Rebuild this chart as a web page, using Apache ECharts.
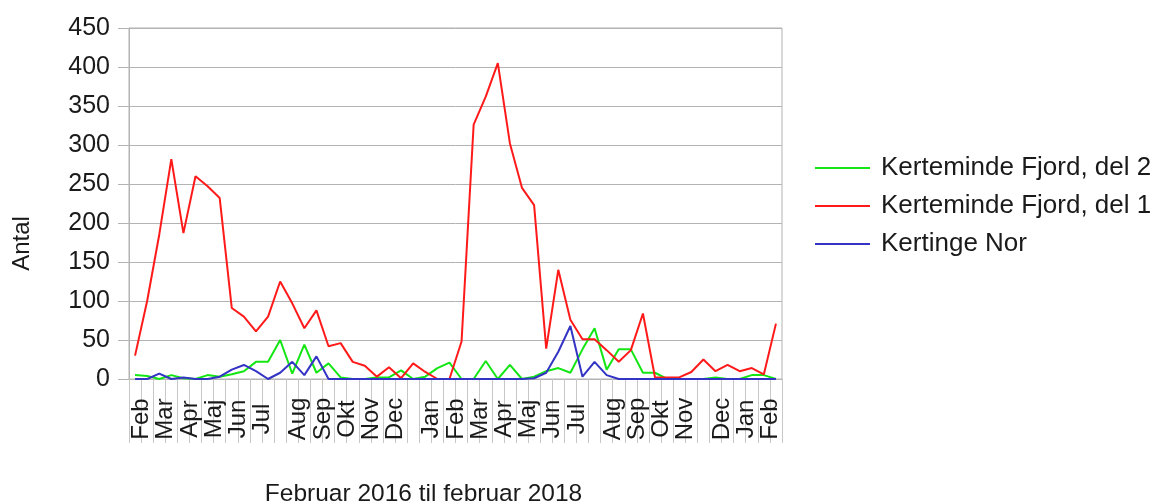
<!DOCTYPE html>
<html>
<head>
<meta charset="utf-8">
<script src="https://cdn.jsdelivr.net/npm/echarts@6/dist/echarts.min.js"></script>
<style>
html, body { margin: 0; padding: 0; background: #fff; }
#chart { width: 1156px; height: 504px; }
</style>
</head>
<body>
<div id="chart"></div>
<script>
// samples, roughly every second week, Feb 2016 - Feb 2018
var fjordDel2 = [5,4,0,5,1,0,5,3,6,10, 22,22,50,7,44,8,20,2,0,0, 2,2,11,0,3,14,21,0,0,23,
                 0,18,0,3,10,14,8,38,65,12, 38,38,8,8,0,0,0,0,2,0, 0,5,5,0];
var fjordDel1 = [30,100,185,282,187,260,247,232,91,80, 61,80,125,97,65,88,42,46,22,17,
                 3,15,1,20,9,0,0,48,326,362, 405,302,245,223,39,140,76,51,51,37,
                 22,37,84,2,2,2,9,25,10,18, 10,14,6,71];
var kertingeNor = [0,0,7,0,2,0,0,3,12,18, 10,0,8,22,5,29,0,0,0,0, 0,0,0,0,0,0,0,0,0,0,
                   0,0,0,1,8,35,68,3,22,5, 0,0,0,0,0,0,0,0,0,0, 0,0,0,0];

// month name shown at the first sample of each month
var monthNames = ['Feb','Mar','Apr','Maj','Jun','Jul','Aug','Sep','Okt','Nov','Dec','Jan',
                  'Feb','Mar','Apr','Maj','Jun','Jul','Aug','Sep','Okt','Nov','Dec','Jan','Feb'];
var monthStart = [0,2,4,6,8,10,13,15,17,19,21,24,26,28,30,32,34,36,39,41,43,45,48,50,52];

var labels = [];
var categories = [];
for (var i = 0; i < fjordDel1.length; i++) {
    labels.push('');
    categories.push(String(i));
}
monthStart.forEach(function (p, k) { labels[p] = monthNames[k]; });

var font = 'Liberation Sans';
var gray = '#b3b3b3';
var txt = '#1a1a1a';

var myChart = echarts.init(document.getElementById('chart'));
var option = {
    animation: false,
    textStyle: { fontFamily: font },
    grid: {
        left: 129, top: 28, right: 374, bottom: 125,
        outerBoundsMode: 'none',
        containLabel: false,
        show: true, borderColor: gray, borderWidth: 1
    },
    legend: {
        orient: 'vertical',
        left: 815,
        top: 155,
        padding: 0,
        icon: 'rect',
        itemWidth: 55,
        itemHeight: 2,
        itemGap: 12,
        textStyle: { fontSize: 26, color: txt, fontFamily: font, padding: [0, 0, 0, 6] }
    },
    xAxis: {
        type: 'category',
        data: categories,
        boundaryGap: true,
        axisLine: { lineStyle: { color: gray, width: 1 } },
        // the interval marks run down between the month labels
        axisTick: { show: true, interval: 0, length: 64, lineStyle: { color: '#c8c8c8' } },
        axisLabel: {
            interval: 0,
            rotate: 90,
            align: 'center',
            verticalAlign: 'top',
            lineHeight: 13,
            margin: 40,
            fontSize: 24,
            color: txt,
            fontFamily: font,
            formatter: function (v, idx) { return labels[idx]; }
        },
        name: 'Februar 2016 til februar 2018',
        nameLocation: 'middle',
        nameGap: 103,
        nameTextStyle: { fontSize: 24.5, color: txt, fontFamily: font, padding: [0, 64, 0, 0] }
    },
    yAxis: {
        type: 'value',
        min: 0,
        max: 450,
        interval: 50,
        axisLine: { show: true, lineStyle: { color: gray, width: 1 } },
        axisTick: { show: true, length: 11, lineStyle: { color: gray } },
        splitLine: { lineStyle: { color: gray, width: 1 } },
        axisLabel: { margin: 19, fontSize: 25, color: txt, fontFamily: font },
        name: 'Antal',
        nameLocation: 'middle',
        nameGap: 95,
        nameTextStyle: { fontSize: 24, color: txt, fontFamily: font, padding: [0, 80, 0, 0] }
    },
    series: [{
        name: 'Kerteminde Fjord, del 2',
        type: 'line',
        symbol: 'none',
        color: '#14e614',
        lineStyle: { width: 2 },
        data: fjordDel2
    }, {
        name: 'Kerteminde Fjord, del 1',
        type: 'line',
        symbol: 'none',
        color: '#ff1a1a',
        lineStyle: { width: 2 },
        data: fjordDel1
    }, {
        name: 'Kertinge Nor',
        type: 'line',
        symbol: 'none',
        color: '#3333c4',
        lineStyle: { width: 2 },
        data: kertingeNor
    }]
};

myChart.setOption(option);

window.onresize = function () {
    myChart.resize();
};
</script>
</body>
</html>
